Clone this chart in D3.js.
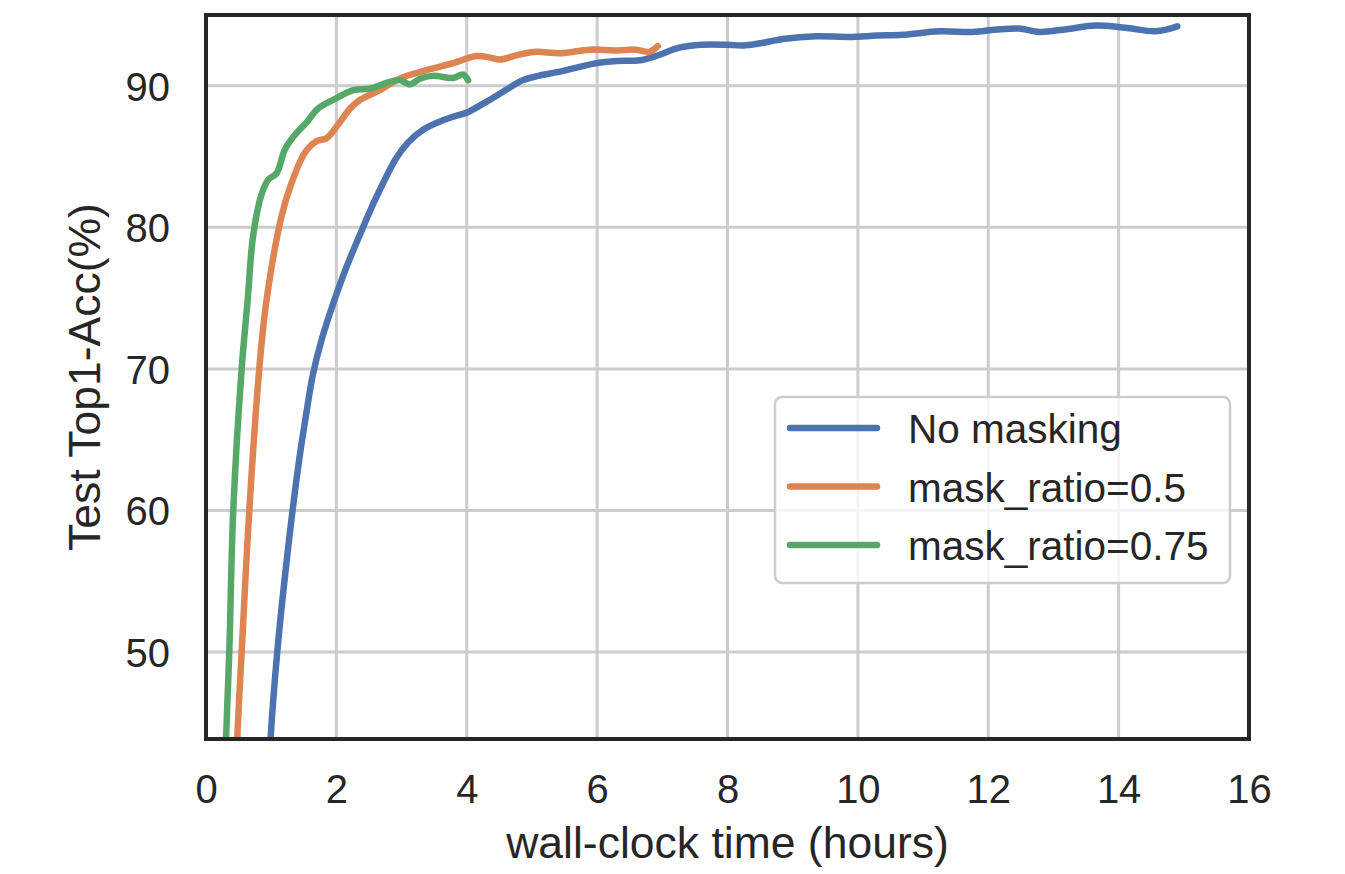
<!DOCTYPE html>
<html>
<head>
<meta charset="utf-8">
<script src="https://cdn.jsdelivr.net/npm/d3@7"></script>
<style>
  body { margin: 0; background: #fff; }
  text { font-family: "Liberation Sans", Arial, sans-serif; fill: #262626; }
</style>
</head>
<body>
<svg id="chart" width="1345" height="874"></svg>
<script>
// data (hours, top-1 %)
var seriesNames = ["No masking", "mask_ratio=0.5", "mask_ratio=0.75"];
var seriesColors = ["#4c72b0", "#dd8452", "#55a868"];

var noMasking = [
  [0.95, 40], [0.99, 43.86], [1.093, 50], [1.246, 56.8], [1.415, 63.1], [1.54, 66.9],
  [1.64, 69.6], [1.77, 72.0], [1.95, 74.6], [2.13, 76.9], [2.39, 79.8], [2.62, 82.2],
  [2.92, 84.9], [3.1, 86.0], [3.33, 86.9], [3.6, 87.5], [3.89, 87.95], [4.0, 88.1], [4.35, 89.0],
  [4.6, 89.7], [4.86, 90.4], [5.1, 90.7], [5.43, 91.0], [5.7, 91.3], [5.99, 91.6],
  [6.3, 91.75], [6.65, 91.8], [6.9, 92.1], [7.26, 92.7], [7.6, 92.9], [7.98, 92.9],
  [8.24, 92.85], [8.5, 93.0], [8.85, 93.3], [9.36, 93.5], [9.87, 93.45], [10.3, 93.55],
  [10.69, 93.6], [11.25, 93.85], [11.76, 93.8], [12.1, 93.95], [12.47, 94.05],
  [12.78, 93.8], [13.2, 94.0], [13.65, 94.25], [14.1, 94.1], [14.57, 93.85], [14.9, 94.2]
];
var mask50 = [
  [0.46, 40], [0.48, 43.86], [0.547, 50], [0.664, 60], [0.817, 70], [0.93, 74.9],
  [1.16, 80.8], [1.31, 83.1], [1.52, 85.3], [1.7, 86.1], [1.85, 86.3], [2.05, 87.4],
  [2.21, 88.4], [2.36, 89.0], [2.67, 89.7], [2.97, 90.5], [3.38, 91.1], [3.79, 91.6],
  [4.15, 92.1], [4.35, 92.0], [4.51, 91.85], [4.8, 92.2], [5.07, 92.4], [5.43, 92.3],
  [5.89, 92.55], [6.29, 92.5], [6.6, 92.55], [6.8, 92.4], [6.93, 92.8]
];
var mask75 = [
  [0.29, 40], [0.307, 43.86], [0.357, 50], [0.418, 60], [0.547, 70], [0.64, 74.9],
  [0.72, 79.3], [0.85, 82.3], [0.96, 83.4], [1.08, 83.8], [1.21, 85.5], [1.34, 86.4],
  [1.54, 87.4], [1.72, 88.4], [1.95, 89.0], [2.26, 89.7], [2.51, 89.8], [2.77, 90.2],
  [2.97, 90.4], [3.13, 90.1], [3.28, 90.5], [3.48, 90.7], [3.79, 90.55], [3.94, 90.8],
  [4.02, 90.4]
];
var xTicks = [0, 2, 4, 6, 8, 10, 12, 14, 16];
var yTicks = [50, 60, 70, 80, 90];

var svg = d3.select("#chart");
var margin = { left: 206, right: 96, top: 15, bottom: 135 };
var W = 1345 - margin.left - margin.right, H = 874 - margin.top - margin.bottom;

var x = d3.scaleLinear().domain([0, 16]).range([0, W]);
var y = d3.scaleLinear().domain([43.86, 95]).range([H, 0]);

var g = svg.append("g").attr("transform", "translate(" + margin.left + "," + margin.top + ")");

// grid
g.append("g").selectAll("line").data(xTicks).join("line")
  .attr("x1", d => x(d)).attr("x2", d => x(d)).attr("y1", 0).attr("y2", H)
  .attr("stroke", "#cccccc").attr("stroke-width", 3);
g.append("g").selectAll("line").data(yTicks).join("line")
  .attr("x1", 0).attr("x2", W).attr("y1", d => y(d)).attr("y2", d => y(d))
  .attr("stroke", "#cccccc").attr("stroke-width", 3);

// curves
g.append("clipPath").attr("id", "clip").append("rect").attr("width", W).attr("height", H);
var line = d3.line().x(d => x(d[0])).y(d => y(d[1])).curve(d3.curveCatmullRom.alpha(0.5));
var allSeries = [noMasking, mask50, mask75];
g.append("g").attr("clip-path", "url(#clip)").selectAll("path").data(allSeries).join("path")
  .attr("d", line).attr("fill", "none")
  .attr("stroke", (d, i) => seriesColors[i]).attr("stroke-width", 6.5)
  .attr("stroke-linecap", "round").attr("stroke-linejoin", "round");

// axes
var xAxis = g.append("g").attr("transform", "translate(0," + H + ")")
  .call(d3.axisBottom(x).tickValues(xTicks).tickSize(0).tickPadding(36));
var yAxis = g.append("g")
  .call(d3.axisLeft(y).tickValues(yTicks).tickSize(0).tickPadding(36));
[xAxis, yAxis].forEach(function (a) {
  a.select(".domain").remove();
  a.selectAll("text").attr("font-size", 40).attr("font-family", "Liberation Sans, Arial, sans-serif").attr("fill", "#262626");
});
yAxis.selectAll("text").attr("dy", "0.36em");

// frame
g.append("rect").attr("width", W).attr("height", H).attr("fill", "none")
  .attr("stroke", "#262626").attr("stroke-width", 4);

// labels
svg.append("text").attr("x", margin.left + W / 2).attr("y", 858)
  .attr("text-anchor", "middle").attr("font-size", 44.5).text("wall-clock time (hours)");
svg.append("text").attr("transform", "translate(100," + (margin.top + H / 2) + ") rotate(-90)")
  .attr("text-anchor", "middle").attr("font-size", 44.5).text("Test Top1-Acc(%)");

// legend
var leg = svg.append("g").attr("transform", "translate(775,397)");
leg.append("rect").attr("width", 455).attr("height", 186).attr("rx", 7)
  .attr("fill", "#ffffff").attr("fill-opacity", 0.8).attr("stroke", "#cccccc").attr("stroke-width", 2.5);
var item = leg.selectAll("g.item").data(seriesNames).join("g").attr("class", "item")
  .attr("transform", (d, i) => "translate(0," + (31 + i * 58.5) + ")");
item.append("line").attr("x1", 15).attr("x2", 102)
  .attr("stroke", (d, i) => seriesColors[i]).attr("stroke-width", 6.5).attr("stroke-linecap", "round");
item.append("text").attr("x", 133).attr("y", 15).attr("font-size", 40.5).text(d => d);
</script>
</body>
</html>
